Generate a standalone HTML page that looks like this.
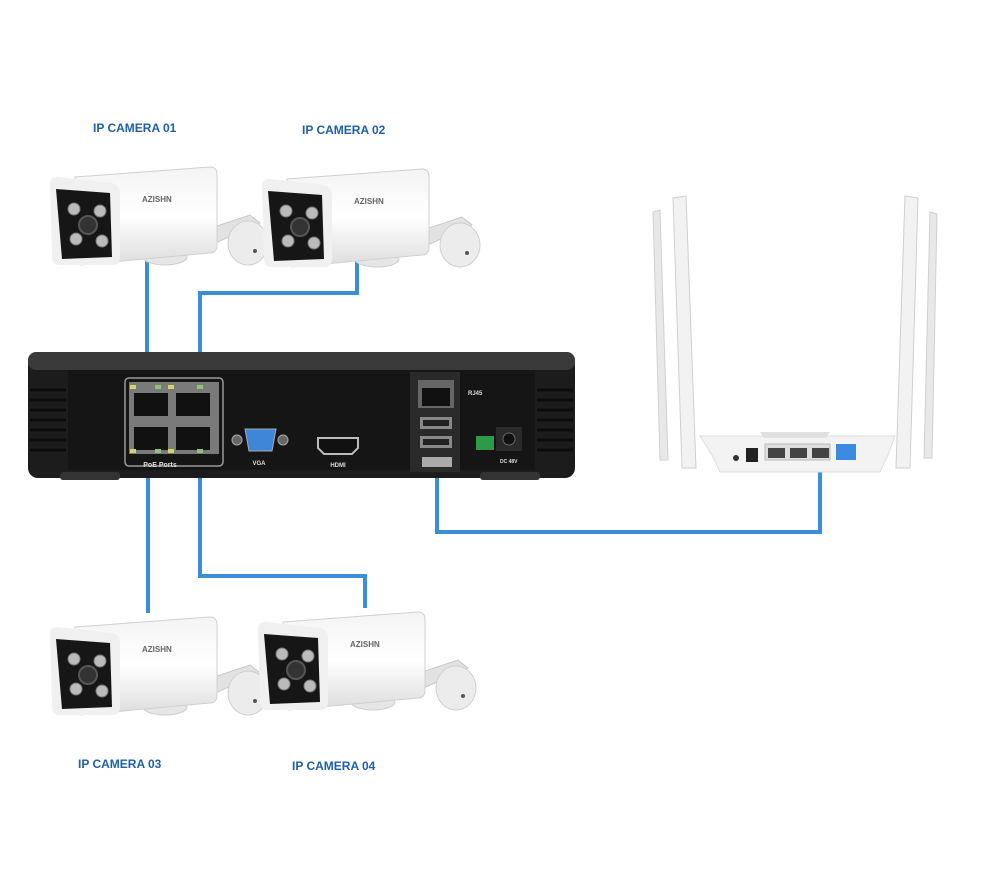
<!DOCTYPE html>
<html><head><style>
html,body{margin:0;padding:0;background:#fff;width:1000px;height:870px;overflow:hidden}
.lbl{font-family:"Liberation Sans",sans-serif;font-weight:bold;font-size:12px;fill:#1d5fae}
</style></head><body>
<svg width="1000" height="870" viewBox="0 0 1000 870" xmlns="http://www.w3.org/2000/svg">
<defs>
<linearGradient id="bodyg" x1="0" y1="0" x2="0" y2="1"><stop offset="0" stop-color="#f4f4f4"/><stop offset="0.5" stop-color="#ffffff"/><stop offset="1" stop-color="#dcdcdc"/></linearGradient>
<g id="cam">
  <!-- bracket -->
  <path d="M140 70 L200 50 L210 58 L150 85 Z" fill="#e2e2e2" stroke="#c8c8c8"/>
  <ellipse cx="198" cy="78" rx="20" ry="22" fill="#ececec" stroke="#cfcfcf"/>
  <circle cx="205" cy="86" r="2" fill="#555"/>
  <ellipse cx="115" cy="92" rx="22" ry="8" fill="#e6e6e6" stroke="#cfcfcf"/>
  <!-- body -->
  <path d="M25 12 L160 2 Q167 2 167 10 L167 80 Q167 88 160 88 L30 100 Z" fill="url(#bodyg)" stroke="#d0d0d0"/>
  <!-- front -->
  <path d="M0 18 Q0 12 8 12 L62 18 Q70 20 70 28 L70 92 Q70 100 62 100 L10 100 Q2 100 2 92 Z" fill="#f0f0f0"/>
  <path d="M6 24 L60 28 L62 92 L12 94 Z" fill="#161616"/>
  <circle cx="24" cy="44" r="6" fill="#bbb" stroke="#777"/>
  <circle cx="50" cy="46" r="6" fill="#bbb" stroke="#777"/>
  <circle cx="26" cy="74" r="6" fill="#bbb" stroke="#777"/>
  <circle cx="52" cy="76" r="6" fill="#bbb" stroke="#777"/>
  <circle cx="38" cy="60" r="9" fill="#333" stroke="#555" stroke-width="2"/>
  <text x="92" y="37" font-family="Liberation Sans,sans-serif" font-size="8" font-weight="bold" fill="#666">AZISHN</text>
</g>
</defs>

<!-- labels -->
<text class="lbl" x="93" y="132">IP  CAMERA 01</text>
<text class="lbl" x="302" y="134">IP  CAMERA 02</text>
<text class="lbl" x="78" y="768">IP  CAMERA 03</text>
<text class="lbl" x="292" y="770">IP  CAMERA 04</text>

<!-- cables -->
<g fill="none" stroke="#3a8fd8" stroke-width="4">
  <path d="M147 258 V385"/>
  <path d="M357 255 V293 H200 V388"/>
  <path d="M148 455 V613"/>
  <path d="M200 455 V576 H365 V608"/>
  <path d="M437 392 V532 H820 V450"/>
</g>

<!-- cameras -->
<use href="#cam" x="50" y="165"/>
<use href="#cam" x="262" y="167"/>
<use href="#cam" x="50" y="615"/>
<use href="#cam" x="258" y="610"/>

<!-- NVR -->
<rect x="28" y="352" width="547" height="126" rx="10" fill="#1c1c1c"/>
<rect x="28" y="352" width="547" height="18" rx="8" fill="#3a3a3a"/>
<g stroke="#0c0c0c" stroke-width="3">
  <path d="M30 390 H66 M30 400 H66 M30 410 H66 M30 420 H66 M30 430 H66 M30 440 H66 M30 450 H66"/>
  <path d="M537 390 H573 M537 400 H573 M537 410 H573 M537 420 H573 M537 430 H573 M537 440 H573 M537 450 H573"/>
</g>
<rect x="68" y="370" width="467" height="100" fill="#151515"/>
<rect x="125" y="378" width="98" height="88" rx="4" fill="none" stroke="#999" stroke-width="1.5"/>
<rect x="129" y="382" width="90" height="72" fill="#7a7a7a"/>
<rect x="134" y="393" width="34" height="23" fill="#111"/>
<rect x="176" y="393" width="34" height="23" fill="#111"/>
<rect x="134" y="427" width="34" height="23" fill="#111"/>
<rect x="176" y="427" width="34" height="23" fill="#111"/>
<g fill="#d8d260"><rect x="130" y="385" width="6" height="4"/><rect x="168" y="385" width="6" height="4"/><rect x="130" y="449" width="6" height="4"/><rect x="168" y="449" width="6" height="4"/></g>
<g fill="#8ec27c"><rect x="155" y="385" width="6" height="4"/><rect x="197" y="385" width="6" height="4"/><rect x="155" y="449" width="6" height="4"/><rect x="197" y="449" width="6" height="4"/></g>
<text x="160" y="467" font-family="Liberation Sans,sans-serif" font-size="7" font-weight="bold" fill="#ddd" text-anchor="middle">PoE Ports</text>
<circle cx="237" cy="440" r="5" fill="#666" stroke="#aaa"/>
<circle cx="283" cy="440" r="5" fill="#666" stroke="#aaa"/>
<path d="M245 429 H276 L272 451 H249 Z" fill="#3f85d8" stroke="#aaa"/>
<text x="259" y="465" font-family="Liberation Sans,sans-serif" font-size="6" font-weight="bold" fill="#ddd" text-anchor="middle">VGA</text>
<path d="M318 438 H358 V448 L352 454 H324 L318 448 Z" fill="#111" stroke="#bbb" stroke-width="2"/>
<text x="338" y="467" font-family="Liberation Sans,sans-serif" font-size="6" font-weight="bold" fill="#ddd" text-anchor="middle">HDMI</text>
<rect x="410" y="372" width="50" height="100" fill="#2a2a2a"/>
<rect x="418" y="380" width="36" height="28" fill="#666"/>
<rect x="422" y="388" width="28" height="18" fill="#111"/>
<rect x="420" y="417" width="32" height="12" fill="#888"/><rect x="423" y="420" width="26" height="6" fill="#222"/>
<rect x="420" y="436" width="32" height="12" fill="#888"/><rect x="423" y="439" width="26" height="6" fill="#222"/>
<rect x="422" y="457" width="30" height="10" fill="#aaa"/>
<text x="468" y="395" font-family="Liberation Sans,sans-serif" font-size="6" font-weight="bold" fill="#ddd">RJ45</text>
<rect x="476" y="436" width="18" height="14" fill="#2d9a4a"/>
<rect x="496" y="427" width="26" height="24" fill="#2a2a2a"/><circle cx="509" cy="439" r="6" fill="#111" stroke="#666"/>
<text x="500" y="463" font-family="Liberation Sans,sans-serif" font-size="5" font-weight="bold" fill="#ddd">DC 48V</text>
<rect x="60" y="472" width="60" height="8" rx="3" fill="#333"/>
<rect x="480" y="472" width="60" height="8" rx="3" fill="#333"/>

<!-- Router -->
<g>
  <path d="M653 212 L660 210 L668 460 L660 460 Z" fill="#e8e8e8" stroke="#d0d0d0"/>
  <path d="M673 198 L686 196 L696 468 L682 468 Z" fill="#f2f2f2" stroke="#cfcfcf"/>
  <path d="M905 196 L918 198 L910 468 L896 468 Z" fill="#f2f2f2" stroke="#cfcfcf"/>
  <path d="M930 212 L937 214 L932 458 L924 458 Z" fill="#e8e8e8" stroke="#d0d0d0"/>
  <path d="M700 436 H895 L888 455 L880 472 H720 L712 455 Z" fill="#f3f3f3" stroke="#ddd"/>
  <path d="M760 432 H830 L826 438 H764 Z" fill="#e0e0e0"/>
  <circle cx="736" cy="458" r="3" fill="#333"/>
  <rect x="746" y="448" width="12" height="14" fill="#222"/>
  <rect x="765" y="444" width="65" height="16" fill="#ddd" stroke="#bbb"/>
  <rect x="768" y="448" width="17" height="10" fill="#444"/>
  <rect x="790" y="448" width="17" height="10" fill="#444"/>
  <rect x="812" y="448" width="17" height="10" fill="#444"/>
  <rect x="836" y="444" width="20" height="16" fill="#3b8be0"/>
</g>
</svg>
</body></html>
